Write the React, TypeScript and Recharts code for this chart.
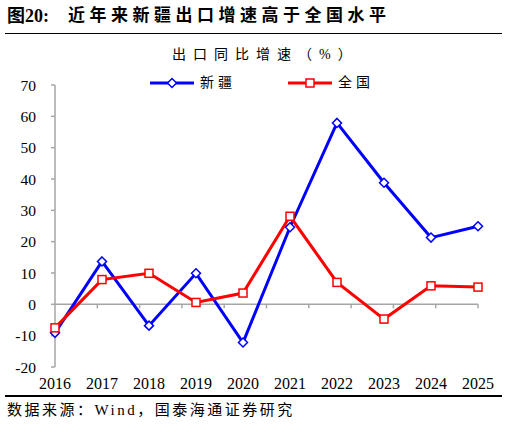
import { Line, LineChart, ReferenceLine, XAxis, YAxis } from "recharts";

const years = ["2016", "2017", "2018", "2019", "2020", "2021", "2022", "2023", "2024", "2025"];
const xinjiang = [-9.1, 13.7, -6.8, 9.9, -12.2, 24.6, 57.9, 38.8, 21.3, 24.9];
const national = [-7.5, 7.9, 9.9, 0.6, 3.6, 28.1, 7.0, -4.7, 5.9, 5.5];
const yTicks = [-20, -10, 0, 10, 20, 30, 40, 50, 60, 70];
const seriesNames = ["新疆", "全国"];

const figNo = "图20:";
const titleText = "近年来新疆出口增速高于全国水平";
const unitText = "出口同比增速（%）";
const sourceText = "数据来源：Wind，国泰海通证券研究";

const BLUE = "#0000FF";
const RED = "#FF0000";
const AXIS = "#A6A6A6";
const SERIF = "'Liberation Serif', 'Noto Sans CJK SC', serif";

const data = years.map((year, i) => ({ year, xj: xinjiang[i], cn: national[i] }));

const Diamond = (props: any) => {
  const { cx, cy, index } = props;
  if (cx == null || cy == null) return null;
  const r = 4.5;
  return (
    <polygon
      key={`xj-${index}`}
      points={`${cx},${cy - r} ${cx + r},${cy} ${cx},${cy + r} ${cx - r},${cy}`}
      fill="#fff"
      stroke={BLUE}
      strokeWidth={1.5}
    />
  );
};

const Square = (props: any) => {
  const { cx, cy, index } = props;
  if (cx == null || cy == null) return null;
  return (
    <rect key={`cn-${index}`} x={cx - 4} y={cy - 4} width={8} height={8} fill="#fff" stroke={RED} strokeWidth={1.5} />
  );
};

// zero line doubles as the category axis, with ticks between years
const ZeroAxis = (props: any) => {
  const { x1, x2, y1 } = props;
  const step = (x2 - x1) / years.length;
  return (
    <g>
      <line x1={x1} x2={x2} y1={y1} y2={y1} stroke={AXIS} strokeWidth={1.5} />
      {years.map((y, i) => (
        <line key={y} x1={x1 + step * (i + 1)} x2={x1 + step * (i + 1)} y1={y1} y2={y1 + 4} stroke={AXIS} strokeWidth={1.5} />
      ))}
    </g>
  );
};

const LegendItem = ({ left, color, name, square }: any) => (
  <div style={{ position: "absolute", left, top: 75, height: 16, display: "flex", alignItems: "center" }}>
    <svg width={46} height={16}>
      <line x1={0} x2={44} y1={8} y2={8} stroke={color} strokeWidth={3} />
      {square ? (
        <rect x={18} y={4} width={8} height={8} fill="#fff" stroke={color} strokeWidth={1.5} />
      ) : (
        <polygon points="22,3.5 26.5,8 22,12.5 17.5,8" fill="#fff" stroke={color} strokeWidth={1.5} />
      )}
    </svg>
    <span style={{ fontSize: 14, letterSpacing: 4, marginLeft: 4, lineHeight: "16px" }}>{name}</span>
  </div>
);

export default function App() {
  return (
    <div
      style={{
        position: "absolute",
        left: 0,
        top: 0,
        width: 508,
        height: 433,
        background: "#fff",
        fontFamily: SERIF,
        color: "#000",
      }}
    >
      <div style={{ position: "absolute", left: 7, top: 6, fontSize: 18, lineHeight: "20px", fontWeight: "bold" }}>
        {figNo}
      </div>
      <div
        style={{
          position: "absolute",
          left: 68,
          top: 6,
          fontSize: 17,
          lineHeight: "20px",
          fontWeight: "bold",
          letterSpacing: 4.5,
          whiteSpace: "nowrap",
        }}
      >
        {titleText}
      </div>
      <div style={{ position: "absolute", left: 5, top: 32.5, width: 497, height: 1.5, background: "#000" }} />
      <div
        style={{
          position: "absolute",
          left: 172,
          top: 46,
          fontSize: 14,
          lineHeight: "18px",
          letterSpacing: 7,
          whiteSpace: "nowrap",
        }}
      >
        {unitText}
      </div>
      <LineChart
        width={508}
        height={433}
        data={data}
        margin={{ top: 85, right: 30, bottom: 36, left: 10 }}
        style={{ position: "absolute", left: 0, top: 0 }}
      >
        <XAxis
          dataKey="year"
          axisLine={false}
          tickLine={false}
          height={30}
          tickMargin={5}
          interval={0}
          tick={{ fill: "#000", fontSize: 16, fontFamily: SERIF }}
        />
        <YAxis
          width={45}
          domain={[-20, 70]}
          ticks={yTicks}
          interval={0}
          stroke={AXIS}
          axisLine={{ stroke: AXIS, strokeWidth: 1.5 }}
          tickLine={{ stroke: AXIS, strokeWidth: 1.5 }}
          tickSize={4}
          tickMargin={15}
          tick={{ fill: "#000", fontSize: 15.5, fontFamily: SERIF }}
        />
        <ReferenceLine y={0} shape={<ZeroAxis />} />
        <Line
          dataKey="xj"
          name={seriesNames[0]}
          stroke={BLUE}
          strokeWidth={3}
          dot={<Diamond />}
          activeDot={false}
          isAnimationActive={false}
        />
        <Line
          dataKey="cn"
          name={seriesNames[1]}
          stroke={RED}
          strokeWidth={3}
          dot={<Square />}
          activeDot={false}
          isAnimationActive={false}
        />
      </LineChart>
      <LegendItem left={150} color={BLUE} name={seriesNames[0]} />
      <LegendItem left={288} color={RED} name={seriesNames[1]} square />
      <div style={{ position: "absolute", left: 5, top: 395, width: 497, height: 1.5, background: "#000" }} />
      <div
        style={{
          position: "absolute",
          left: 7,
          top: 401,
          fontSize: 15,
          lineHeight: "18px",
          letterSpacing: 2.5,
          whiteSpace: "nowrap",
        }}
      >
        {sourceText}
      </div>
    </div>
  );
}
